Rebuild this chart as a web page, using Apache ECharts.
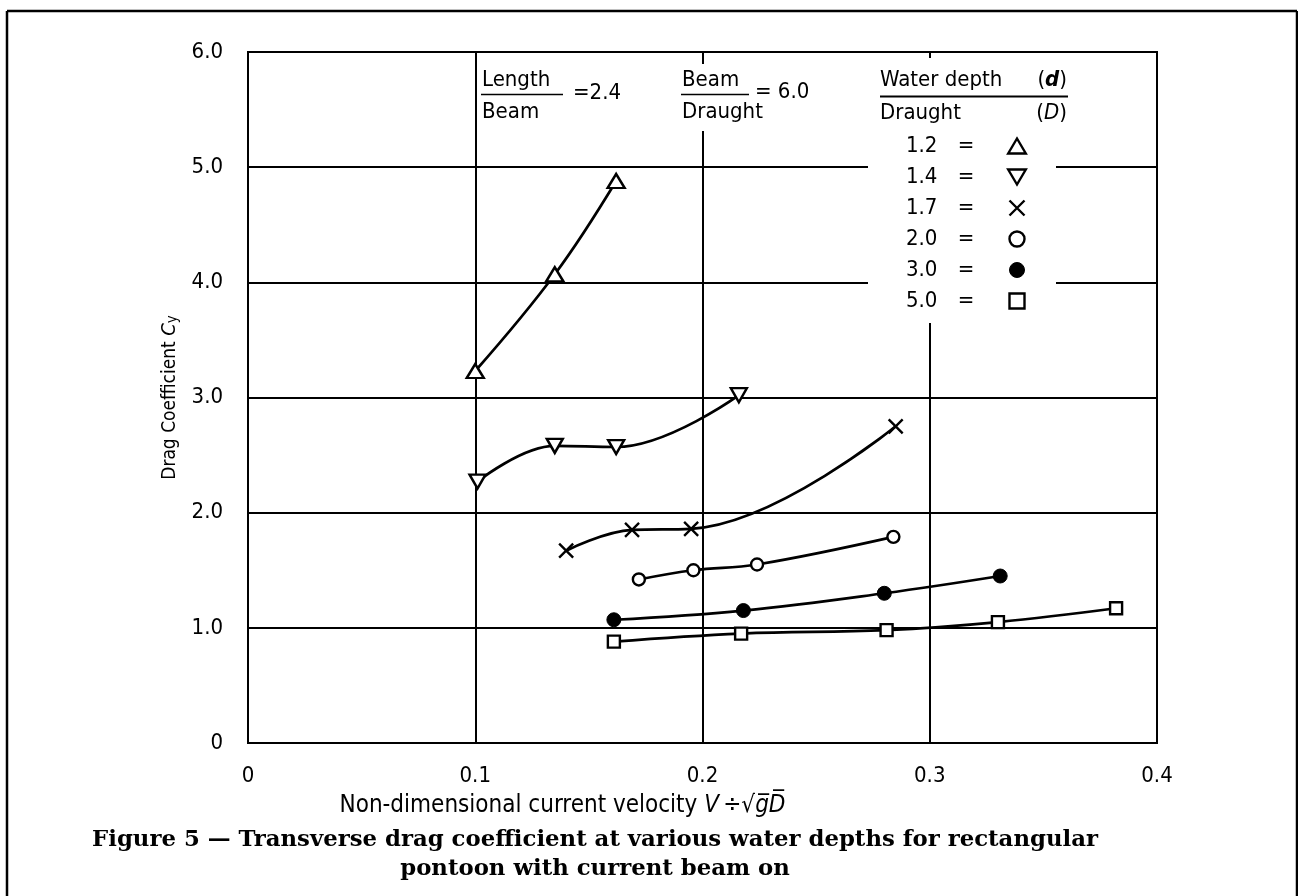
<!DOCTYPE html>
<html>
<head>
<meta charset="utf-8">
<script src="https://cdn.jsdelivr.net/npm/echarts@6/dist/echarts.min.js"></script>
<style>
html,body{margin:0;padding:0;background:#fff;}
#chart{width:1298px;height:896px;}
</style>
</head>
<body>
<div id="chart"></div>
<script>
// ---- data ----
const depthRatios = ['1.2', '1.4', '1.7', '2.0', '3.0', '5.0'];
const x12 = [0.100, 0.135, 0.162];
const y12 = [3.23, 4.07, 4.88];
const x14 = [0.101, 0.135, 0.162, 0.216];
const y14 = [2.27, 2.58, 2.57, 3.02];
const x17 = [0.140, 0.169, 0.195, 0.285];
const y17 = [1.67, 1.85, 1.86, 2.75];
const x20 = [0.172, 0.196, 0.224, 0.284];
const y20 = [1.42, 1.50, 1.55, 1.79];
const x30 = [0.161, 0.218, 0.280, 0.331];
const y30 = [1.07, 1.15, 1.30, 1.45];
const x50 = [0.161, 0.217, 0.281, 0.330, 0.382];
const y50 = [0.88, 0.95, 0.98, 1.05, 1.17];
const xTickLabels = ['0', '0.1', '0.2', '0.3', '0.4'];
const yTickLabels = ['0', '1.0', '2.0', '3.0', '4.0', '5.0', '6.0'];

const FONT = "'DejaVu Sans Condensed','DejaVu Sans',sans-serif";
const SERIF = "'DejaVu Serif','Liberation Serif',serif";
const FS = 22;
const UP_TRI = 'path://M10,0L20,17L0,17Z';
const DOWN_TRI = 'path://M0,0L20,0L10,17Z';
const CROSS = 'path://M0,0L10,10M10,0L0,10';
const SQUARE = 'path://M0,0L10,0L10,10L0,10Z';

function pairs(xs, ys) { return xs.map((x, i) => [x, ys[i]]); }

const hollow = { color: '#fff', borderColor: '#000', borderWidth: 2.4 };
const filled = { color: '#000', borderColor: '#000', borderWidth: 1 };

function mkSeries(name, xs, ys, symbol, size, style) {
  return {
    name: name, type: 'line', smooth: 0.4,
    data: pairs(xs, ys),
    symbol: symbol, symbolSize: size, showSymbol: true,
    lineStyle: { color: '#000', width: 2.7 },
    itemStyle: style,
    emphasis: { disabled: true },
    z: 3
  };
}

const chart = echarts.init(document.getElementById('chart'));
const txt = (x, y, text, extra) => Object.assign({
  type: 'text', x: x, y: y, z: 5,
  style: Object.assign({ text: text, fontFamily: FONT, fontSize: FS, fill: '#000', verticalAlign: 'middle', align: 'left' }, extra || {})
});
const ln = (x1, y1, x2, y2, w) => ({
  type: 'line', z: 5, shape: { x1: x1, y1: y1, x2: x2, y2: y2 },
  style: { stroke: '#000', lineWidth: w || 2 }
});

const option = {
  animation: false,
  backgroundColor: '#fff',
  title: {
    text: 'Figure 5 \u2014 Transverse drag coefficient at various water depths for rectangular\npontoon with current beam on',
    left: 590, top: 821, textAlign: 'center',
    textStyle: { fontFamily: SERIF, fontWeight: 'bold', fontSize: 22.8, lineHeight: 29, color: '#000' }
  },
  grid: { left: 248, right: 141, top: 52, bottom: 153, show: true, borderColor: '#000', borderWidth: 2, backgroundColor: 'transparent' },
  xAxis: {
    type: 'value', min: 0, max: 0.4, interval: 0.1,
    axisLine: { show: true, lineStyle: { color: '#000', width: 2 } },
    axisTick: { show: false },
    splitLine: { show: true, lineStyle: { color: '#000', width: 2 } },
    axisLabel: {
      margin: 22, fontFamily: FONT, fontSize: FS, color: '#000',
      formatter: v => xTickLabels[Math.round(v / 0.1)]
    },
    name: 'Non-dimensional current velocity {i|V}\u2009\u00f7\u221a{i|g\u0305D\u0305}',
    nameLocation: 'middle', nameGap: 51,
    nameTextStyle: {
      fontFamily: FONT, fontSize: 24, color: '#000', padding: [0, 280, 0, 0],
      rich: { i: { fontFamily: FONT, fontSize: 24, fontStyle: 'italic', color: '#000' } }
    }
  },
  yAxis: {
    type: 'value', min: 0, max: 6, interval: 1,
    axisLine: { show: true, lineStyle: { color: '#000', width: 2 } },
    axisTick: { show: false },
    splitLine: { show: true, lineStyle: { color: '#000', width: 2 } },
    axisLabel: {
      margin: 25, fontFamily: FONT, fontSize: FS, color: '#000',
      formatter: v => yTickLabels[Math.round(v)]
    },
    name: 'Drag Coefficient {i|C}{s|y}',
    nameLocation: 'middle', nameGap: 65, nameRotate: 90,
    nameTextStyle: {
      fontFamily: FONT, fontSize: 19, color: '#000',
      rich: {
        i: { fontFamily: FONT, fontSize: 20, fontStyle: 'italic', color: '#000' },
        s: { fontFamily: FONT, fontSize: 15, color: '#000', verticalAlign: 'bottom', padding: [6, 0, 0, 0] }
      }
    }
  },
  legend: {
    orient: 'vertical', left: 901, top: 130, align: 'right',
    itemWidth: 72, itemHeight: 15, itemGap: 9, selectedMode: false,
    symbolKeepAspect: true,
    formatter: name => '{n|' + name + '}{e|=}',
    textStyle: {
      fontFamily: FONT, fontSize: FS, color: '#000', lineHeight: 22,
      rich: {
        n: { width: 50, align: 'left', fontFamily: FONT, fontSize: FS, lineHeight: 22, color: '#000' },
        e: { width: 20, align: 'center', fontFamily: FONT, fontSize: FS, lineHeight: 22, color: '#000' }
      }
    },
    data: [
      { name: depthRatios[0], icon: UP_TRI, itemStyle: hollow },
      { name: depthRatios[1], icon: DOWN_TRI, itemStyle: hollow },
      { name: depthRatios[2], icon: CROSS, itemStyle: hollow },
      { name: depthRatios[3], icon: 'circle', itemStyle: hollow },
      { name: depthRatios[4], icon: 'circle', itemStyle: filled },
      { name: depthRatios[5], icon: SQUARE, itemStyle: hollow }
    ]
  },
  graphic: [
    // outer frame
    ln(7, 11, 7, 896, 2.5), ln(7, 11, 1297, 11, 2.5), ln(1297, 11, 1297, 896, 2.5),
    // white masks behind annotations
    { type: 'rect', z: 1, shape: { x: 868, y: 58, width: 188, height: 265 }, style: { fill: '#fff' } },
    { type: 'rect', z: 1, shape: { x: 676, y: 64, width: 130, height: 67 }, style: { fill: '#fff' } },
    // Length / Beam = 2.4
    txt(482, 80, 'Length'), ln(481, 94.5, 563, 94.5, 1.5), txt(482, 112, 'Beam'), txt(573, 93, '=2.4'),
    // Beam / Draught = 6.0
    txt(682, 80, 'Beam'), ln(681, 94.5, 749, 94.5, 1.5), txt(682, 112, 'Draught'), txt(755, 92, '= 6.0'),
    // Water depth / Draught header
    txt(880, 80, 'Water depth'),
    { type: 'text', x: 1067, y: 80, z: 5, style: { text: '({i|d})', fontFamily: FONT, fontSize: FS, fill: '#000', verticalAlign: 'middle', align: 'right',
      rich: { i: { fontFamily: FONT, fontSize: FS, fontStyle: 'italic', fontWeight: 'bold', fill: '#000' } } } },
    ln(880, 96.5, 1068, 96.5, 2),
    txt(880, 113, 'Draught'),
    { type: 'text', x: 1067, y: 113, z: 5, style: { text: '({i|D})', fontFamily: FONT, fontSize: FS, fill: '#000', verticalAlign: 'middle', align: 'right',
      rich: { i: { fontFamily: FONT, fontSize: FS, fontStyle: 'italic', fill: '#000' } } } }
  ],
  series: [
    mkSeries(depthRatios[0], x12, y12, UP_TRI, [17, 14], hollow),
    mkSeries(depthRatios[1], x14, y14, DOWN_TRI, [16, 14], hollow),
    mkSeries(depthRatios[2], x17, y17, CROSS, 14, hollow),
    mkSeries(depthRatios[3], x20, y20, 'circle', 12, hollow),
    mkSeries(depthRatios[4], x30, y30, 'circle', 14, filled),
    mkSeries(depthRatios[5], x50, y50, SQUARE, 12, hollow)
  ]
};
chart.setOption(option);
</script>
</body>
</html>
